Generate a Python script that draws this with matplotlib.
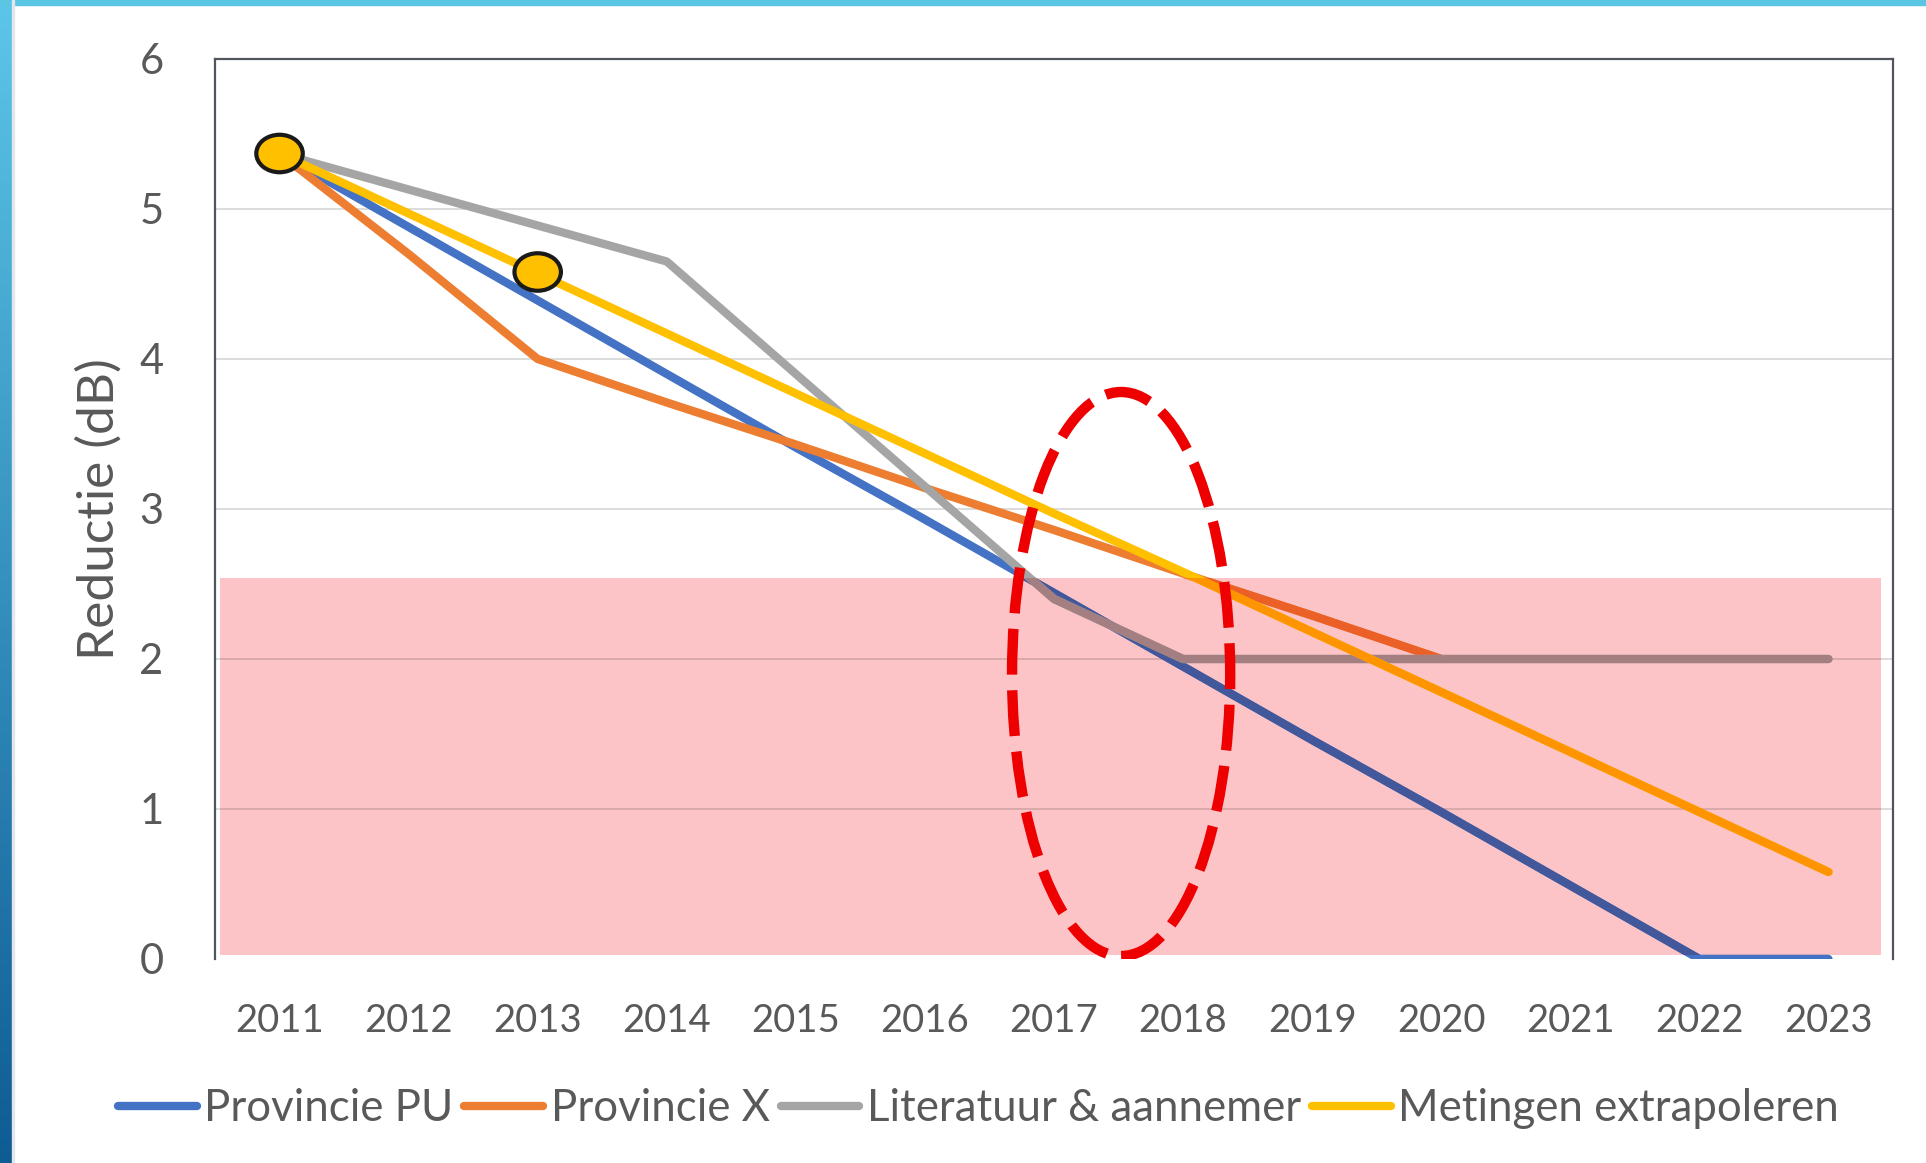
import numpy as np
import matplotlib
matplotlib.use("Agg")
import matplotlib.pyplot as plt
from matplotlib.colors import to_rgb
from matplotlib.patches import Rectangle, Ellipse

plt.rcParams['font.family'] = ['Lato', 'DejaVu Sans']

years = ['2011', '2012', '2013', '2014', '2015', '2016', '2017',
         '2018', '2019', '2020', '2021', '2022', '2023']
prov_pu = [5.37, 4.88, 4.39, 3.90, 3.41, 2.93, 2.44, 1.95, 1.46, 0.98, 0.49, 0.0, 0.0]
prov_x = [5.37, 4.70, 4.00, 3.71, 3.43, 3.14, 2.86, 2.57, 2.29, 2.00,
          np.nan, np.nan, np.nan]
literatuur = [5.37, 5.13, 4.89, 4.65, 3.90, 3.15, 2.40, 2.00, 2.00, 2.00, 2.00, 2.00, 2.00]
metingen = [5.37, 4.97, 4.57, 4.17, 3.77, 3.37, 2.97, 2.58, 2.18, 1.78, 1.38, 0.98, 0.58]

series_names = ['Provincie PU', 'Provincie X', 'Literatuur & aannemer', 'Metingen extrapoleren']
series_colors = ['#4472C4', '#ED7D31', '#A5A5A5', '#FFC000']

# measured points (yellow markers)
meas_years = ['2011', '2013']
meas_vals = [5.37, 4.58]

# critical zone (pink) and the highlighted period
zone_top = 2.54
zone_bottom = 0.03
highlight_year = 6.52      # between 2017 and 2018 (category index)
highlight_lo, highlight_hi = 0.02, 3.78

pink = '#FDC4C8'
text_col = '#595959'
LW = 6

fig = plt.figure(figsize=(19.26, 11.63), dpi=100)

# blue frame of the slide
sax = fig.add_axes([0, 0, 12 / 1926, 1])
grad = np.linspace(np.array([92, 198, 232]) / 255, np.array([14, 92, 148]) / 255, 200)[:, None, :]
sax.imshow(grad, aspect='auto')
sax.axis('off')
fig.patches.append(Rectangle((0, 1 - 5 / 1163), 1, 5 / 1163, transform=fig.transFigure,
                             color='#5BC5E4', zorder=5))
fig.patches.append(Rectangle((12 / 1926, 0), 2 / 1926, 1, transform=fig.transFigure,
                             color='#E3E6EA', zorder=5))

ax = fig.add_axes([215 / 1926, 1 - 959 / 1163, 1678 / 1926, 900 / 1163])
ax.set_xlim(-0.5, 12.5)
ax.set_ylim(0, 6)
x = np.arange(len(years))

zone = Rectangle((-0.46, zone_bottom), 12.87, zone_top - zone_bottom,
                 facecolor=pink, edgecolor='none', zorder=1)
ax.add_patch(zone)


def multiply(c):
    return tuple(np.array(to_rgb(c)) * np.array(to_rgb(pink)))


# gridlines
for yv in [1, 2, 3, 4, 5]:
    ax.axhline(yv, color='#D9D9D9', lw=1.3, zorder=0.5)
    g = ax.axhline(yv, color=multiply('#D9D9D9'), lw=1.3, zorder=1.2)
    g.set_clip_path(zone)

data = [prov_pu, prov_x, literatuur, metingen]
for i, (vals, name, col) in enumerate(zip(data, series_names, series_colors)):
    z = 2 + i
    ax.plot(x, vals, color=col, lw=LW, solid_capstyle='round', solid_joinstyle='round',
            zorder=z, label=name)
    ln, = ax.plot(x, vals, color=multiply(col), lw=LW, solid_capstyle='round',
                  solid_joinstyle='round', zorder=z + 0.5)
    ln.set_clip_path(zone)

for yr, v in zip(meas_years, meas_vals):
    ax.add_patch(Ellipse((years.index(yr), v), 0.36, 0.25, facecolor='#FFC000',
                         edgecolor='#1A1A1A', lw=3, zorder=10))

ax.add_patch(Ellipse((highlight_year, (highlight_lo + highlight_hi) / 2), 1.69,
                     highlight_hi - highlight_lo, fill=False, edgecolor='#EE0000',
                     lw=7.5, linestyle=(0, (4.4, 1.5)), zorder=11))

ax.set_xticks(x, years)
ax.set_yticks([0, 1, 2, 3, 4, 5, 6])
ax.tick_params(axis='x', length=0, pad=32, labelsize=27.5, colors=text_col)
ax.tick_params(axis='y', length=0, pad=37, labelsize=30, colors=text_col)
ax.set_ylabel('Reductie (dB)', fontsize=37, color=text_col, labelpad=12)

for s in ['left', 'top', 'right']:
    ax.spines[s].set_color('#50555E')
    ax.spines[s].set_linewidth(1.6)
ax.spines['bottom'].set_visible(False)

ax.legend(loc='center', bbox_to_anchor=(0.508, 0.047), bbox_transform=fig.transFigure,
          ncol=4, frameon=False, fontsize=31.5, handlelength=1.8, handletextpad=0.17,
          columnspacing=0.25, labelcolor=text_col)

fig.savefig('out.png', dpi=100)
